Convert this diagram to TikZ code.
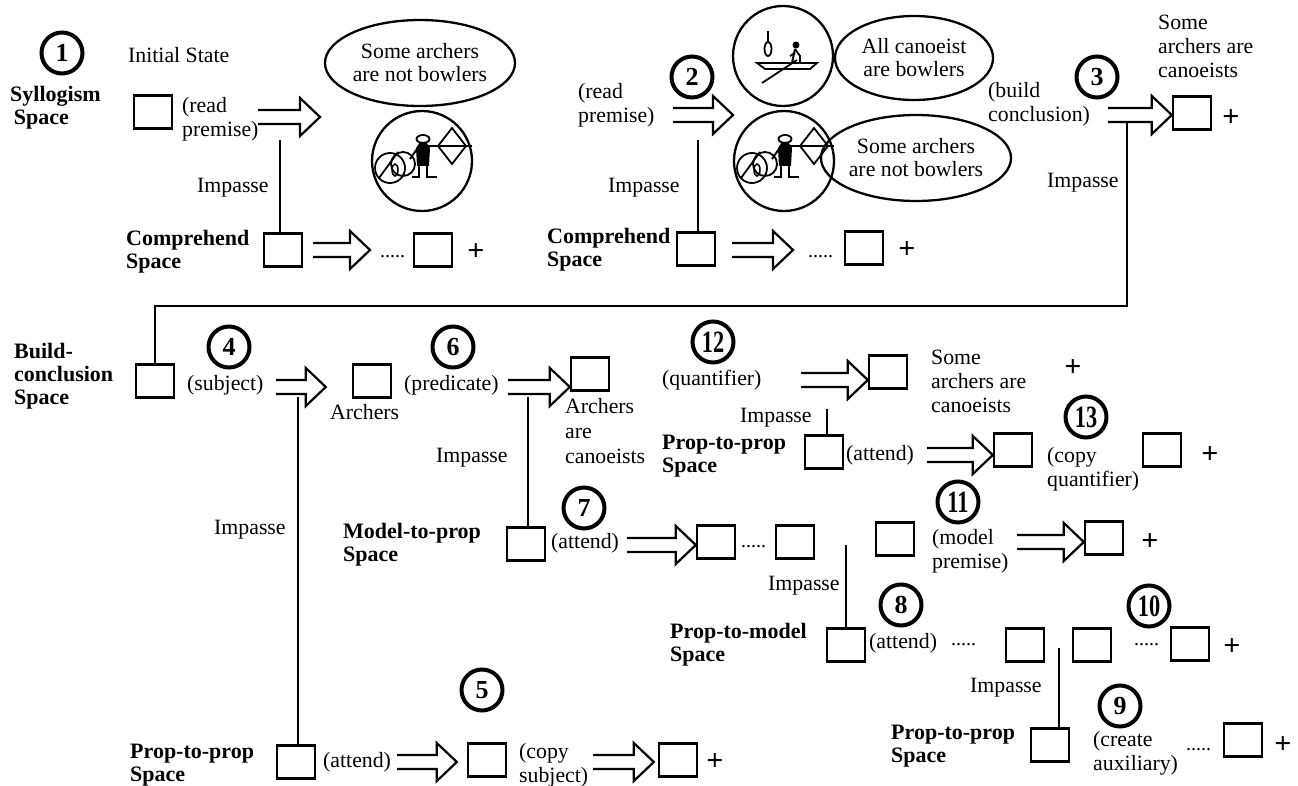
\documentclass[tikz,border=0pt]{standalone}
\usepackage{fontspec}
\setmainfont{Liberation Serif}
\usepackage{graphicx}
\usetikzlibrary{calc,shapes.geometric}
\tikzset{
  txt/.style={font=\fontsize{21.8}{24}\selectfont, inner sep=0pt, align=left, anchor=west},
  btxt/.style={txt, font=\bfseries\fontsize{22}{23}\selectfont},
  sq/.style={draw, line width=2.4pt, minimum width=38pt, minimum height=33pt, inner sep=0pt},
  numc/.style={circle, draw, line width=4pt, minimum size=41pt, inner sep=0pt, font=\bfseries\fontsize{26}{26}\selectfont},
  plussign/.style={inner sep=0pt, font=\bfseries\fontsize{30}{30}\selectfont},
  dotsx/.style={inner sep=0pt, anchor=west, font=\fontsize{20}{20}\selectfont},
  imp/.style={line width=2.4pt},
  ovalx/.style={ellipse, draw, line width=2.3pt, inner sep=0pt, align=center, font=\fontsize{21.8}{23}\selectfont},
  picc/.style={circle, draw, line width=2.3pt, minimum size=100pt, inner sep=0pt},
  fatarrow/.style={line width=2.2pt, to path={let \p1=(\tikztostart), \p2=(\tikztotarget) in
     (\x1,\y1+7pt) -- (\x2-20pt,\y1+7pt) -- (\x2-20pt,\y1+19pt) -- (\x2,\y1) -- (\x2-20pt,\y1-19pt) -- (\x2-20pt,\y1-7pt) -- (\x1,\y1-7pt)}},
}
\newcommand\twodig[1]{\scalebox{0.72}[1]{\fontsize{31}{31}\selectfont #1}}
\newcommand\archerfig{%
  \draw[line width=1.8pt] (-32,7) circle (15) (-19,3) circle (12);
  \draw[line width=1.8pt] (-43,17) -- (-24,-9);
  \draw[line width=1.5pt] (-27,9) ellipse (3 and 6);
  \draw[line width=1.8pt] (1,-22) ellipse (6.5 and 4);
  \fill (-2,-19) -- (4,-19) -- (8,-13) -- (7,5) -- (-5,5) -- (-6,-13) -- cycle;
  \draw[line width=2pt] (-5,-12) -- (-12,-2);
  \draw[line width=1.8pt] (6,-15) -- (50,-15);
  \draw[line width=1.8pt] (16,-15) -- (30,-33) -- (44,-15) -- (30,3) -- cycle;
  \draw[line width=2.2pt] (-3,4) -- (-3,16) -- (-10,16);
  \draw[line width=2.2pt] (5,4) -- (5,16) -- (15,16);
}
\newcommand\canoefig{%
  \draw[line width=1.8pt] (-15,-25) -- (-15,-14);
  \draw[line width=1.8pt] (-15,-7) ellipse (3.5 and 7);
  \draw[line width=1.8pt] (-26,7) -- (34,7) -- (27,13) -- (-18,13) -- cycle;
  \draw[line width=1.8pt] (-21,27) -- (14,4);
  \fill (13,-11) circle (3.5);
  \draw[line width=2pt] (12,-7) -- (9,7);
  \draw[line width=1.8pt] (12,-7) -- (17,0) -- (17,7);
  \draw[line width=1.8pt] (7,0) -- (12,-3);
}
\begin{document}
\begin{tikzpicture}[x=1pt,y=-1pt]
\useasboundingbox[fill=white] (0,0) rectangle (1298,786);

% ---------- block 1: Syllogism space ----------
\node[numc] (n1) at (62,53) {1};
\node[btxt] (syl) at (10,108) {Syllogism\\\,Space};
\node[txt] (init) at (128,55) {Initial State};
\node[sq] (s1) at (153,112) {};
\node[txt] (rp1) at (182,119) {(read\\premise)};
\coordinate (t1) at (258,117);
\coordinate (h1) at (320,117);
\draw[fatarrow] (t1) to (h1);
\node[ovalx, minimum width=160pt, minimum height=86pt] (e1) at (420,63) {Some archers\\are not bowlers};
\node[picc] (c1) at (422,161) {};
\begin{scope}[shift={(c1.center)}]\archerfig\end{scope}
\coordinate (i1) at (280,140);
\node[txt] (imp1) at (197,188) {Impasse};
\node[btxt] (comp1) at (126,252) {Comprehend\\Space};
\node[sq] (ca1) at (283,250) {};
\draw[imp] (i1) -- (i1 |- ca1.north);
\coordinate (t2) at (313,250);
\coordinate (h2) at (370,250);
\draw[fatarrow] (t2) to (h2);
\node[dotsx] (d1) at (380,257) {.....};
\node[sq] (ca2) at (433,250) {};
\node[plussign] (p1) at (476,252) {+};

% ---------- block 2 ----------
\node[numc] (n2) at (692,77) {2};
\node[txt] (rp2) at (578,105) {(read\\premise)};
\coordinate (t3) at (673,115);
\coordinate (h3) at (733,115);
\draw[fatarrow] (t3) to (h3);
\node[picc] (c2) at (783,56) {};
\begin{scope}[shift={(c2.center)}]\canoefig\end{scope}
\node[ovalx, minimum width=158pt, minimum height=84pt] (e2) at (914,58) {All canoeist\\are bowlers};
\node[picc] (c3) at (784,161) {};
\begin{scope}[shift={(c3.center)}]\archerfig\end{scope}
\node[ovalx, minimum width=158pt, minimum height=86pt] (e3) at (916,158) {Some archers\\are not bowlers};
\coordinate (i2) at (698,140);
\node[txt] (imp2) at (608,188) {Impasse};
\node[btxt] (comp2) at (547,250) {Comprehend\\Space};
\node[sq] (cb1) at (696,249) {};
\draw[imp] (i2) -- (i2 |- cb1.north);
\coordinate (t4) at (732,250);
\coordinate (h4) at (793,250);
\draw[fatarrow] (t4) to (h4);
\node[dotsx] (d2) at (808,257) {.....};
\node[sq] (cb2) at (864,248) {};
\node[plussign] (p2) at (907,250) {+};

% ---------- block 3 ----------
\node[txt] (bcl) at (988,104) {(build\\conclusion)};
\node[numc] (n3) at (1097,77) {3};
\coordinate (t5) at (1108,115);
\node[sq] (s3) at (1192,113) {};
\draw[fatarrow] (t5) to (s3.west);
\node[plussign] (p3) at (1231,118) {+};
\node[txt] (sac1) at (1158,46) {Some\\archers are\\canoeists};
\node[txt] (imp3) at (1047,183) {Impasse};

% ---------- build-conclusion row ----------
\node[btxt] (bcs) at (14,376) {Build-\\conclusion\\Space};
\node[sq] (bc) at (155,381) {};
\coordinate (i3) at (1127,122);
\coordinate (k3) at (1127,306);
\draw[imp] (i3) -- (k3) -| (bc.north);
\node[numc] (n4) at (229,347) {4};
\node[txt] (subj) at (187,385) {(subject)};
\coordinate (t6) at (276,387);
\node[sq] (ar) at (372,381) {};
\draw[fatarrow] (t6) to ([xshift=-26pt]ar.west);
\node[txt] (arch) at (330,412) {Archers};
\node[numc] (n6) at (453,347) {6};
\node[txt] (pred) at (404,385) {(predicate)};
\coordinate (t7) at (508,387);
\node[sq] (ac) at (590,374) {};
\draw[fatarrow] (t7) to (ac.west);
\node[txt, font=\fontsize{21.8}{25}\selectfont] (aac) at (565,431) {Archers\\are\\canoeists};
\coordinate (i4) at (298,397);
\node[txt] (imp4) at (214,530) {Impasse};
\coordinate (i6) at (528,397);
\node[txt] (imp6) at (436,458) {Impasse};

% ---------- 12 / 13 ----------
\node[numc] (n12) at (713,342) {\twodig{12}};
\node[txt] (quan) at (662,380) {(quantifier)};
\coordinate (t8) at (801,380);
\node[sq] (q1) at (888,372) {};
\draw[fatarrow] (t8) to (q1.west);
\node[txt] (sac2) at (931,381) {Some\\archers are\\canoeists};
\node[plussign] (p4) at (1073,368) {+};
\node[txt] (imp12) at (740,418) {Impasse};
\node[btxt] (pps1) at (662,456) {Prop-to-prop\\Space};
\node[sq] (pp1) at (824,452) {};
\coordinate (i12) at (827,409);
\draw[imp] (i12) -- (i12 |- pp1.north);
\node[txt] (att1) at (846,455) {(attend)};
\coordinate (t9) at (927,455);
\node[sq] (pp2) at (1013,450) {};
\draw[fatarrow] (t9) to (pp2.west);
\node[numc] (n13) at (1086,417) {\twodig{13}};
\node[txt] (cq) at (1047,469) {(copy\\quantifier)};
\node[sq] (pp3) at (1162,450) {};
\node[plussign] (p5) at (1210,455) {+};

% ---------- model-to-prop row ----------
\node[btxt] (mps) at (343,545) {Model-to-prop\\Space};
\node[sq] (mp1) at (526,544) {};
\draw[imp] (i6) -- (i6 |- mp1.north);
\node[numc] (n7) at (584,508) {7};
\node[txt] (att2) at (551,543) {(attend)};
\coordinate (t10) at (627,545);
\node[sq] (mp2) at (716,542) {};
\draw[fatarrow] (t10) to (mp2.west);
\node[dotsx] (d3) at (741,547) {.....};
\node[sq] (mp3) at (795,542) {};
\coordinate (i7) at (846,545);
\node[txt] (imp7) at (768,586) {Impasse};
\node[sq] (m11) at (895,539) {};
\node[numc] (n11) at (958,502) {\twodig{11}};
\node[txt] (mpr) at (932,551) {(model\\premise)};
\coordinate (t11) at (1017,542);
\node[sq] (m11b) at (1104,538) {};
\draw[fatarrow] (t11) to (m11b.west);
\node[plussign] (p6) at (1150,542) {+};

% ---------- prop-to-model row ----------
\node[btxt] (pms) at (670,645) {Prop-to-model\\Space};
\node[sq] (pm1) at (846,645) {};
\draw[imp] (i7) -- (i7 |- pm1.north);
\node[numc] (n8) at (901,605) {8};
\node[txt] (att3) at (869,643) {(attend)};
\node[dotsx] (d4) at (951,645) {.....};
\node[sq] (pm2) at (1025,645) {};
\node[sq] (pm3) at (1092,645) {};
\node[numc] (n10) at (1149,606) {\twodig{10}};
\node[dotsx] (d5) at (1134,645) {.....};
\node[sq] (pm4) at (1190,644) {};
\node[plussign] (p7) at (1232,647) {+};
\coordinate (i9) at (1059,648);
\node[txt] (imp9) at (970,688) {Impasse};

% ---------- 9 row ----------
\node[btxt] (pps2) at (891,746) {Prop-to-prop\\Space};
\node[sq] (q9) at (1050,745) {};
\draw[imp] (i9) -- (i9 |- q9.north);
\node[numc] (n9) at (1120,706) {9};
\node[txt] (cra) at (1093,753) {(create\\auxiliary)};
\node[dotsx] (d6) at (1186,750) {.....};
\node[sq] (q9b) at (1243,740) {};
\node[plussign] (p8) at (1283,745) {+};

% ---------- bottom row ----------
\node[btxt] (pps3) at (130,765) {Prop-to-prop\\Space};
\node[sq] (b1) at (296,762) {};
\draw[imp] (i4) -- (i4 |- b1.north);
\node[txt] (att4) at (323,762) {(attend)};
\coordinate (t12) at (397,762);
\node[sq] (b2) at (487,760) {};
\draw[fatarrow] (t12) to ([xshift=-10pt]b2.west);
\node[numc] (n5) at (482,690) {5};
\node[txt] (cs) at (519,765) {(copy\\subject)};
\coordinate (t13) at (593,762);
\node[sq] (b3) at (678,760) {};
\draw[fatarrow] (t13) to ([xshift=-4pt]b3.west);
\node[plussign] (p9) at (715,762) {+};
\end{tikzpicture}
\end{document}
